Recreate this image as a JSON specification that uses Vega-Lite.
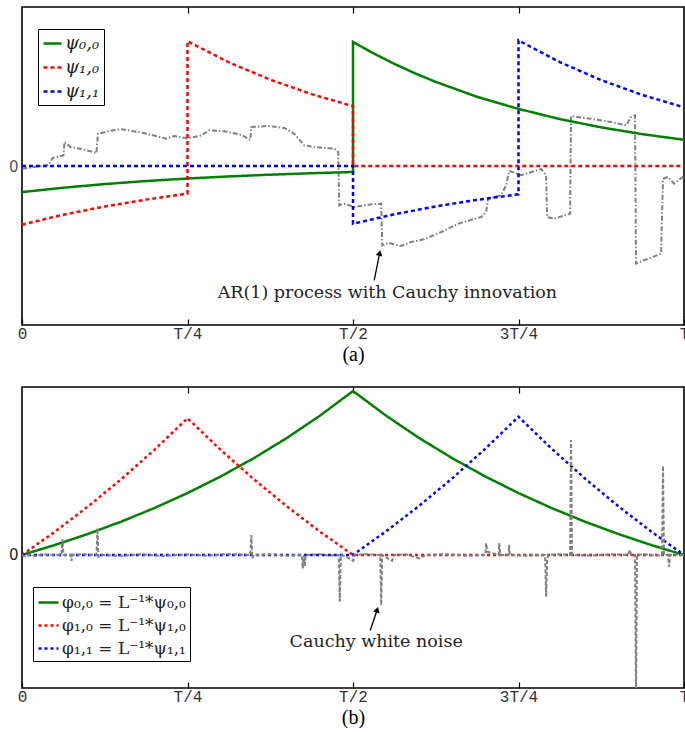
{
  "$schema": "https://vega.github.io/schema/vega-lite/v6.json",
  "background": "white",
  "padding": {"left": 7, "top": 5, "right": 0, "bottom": 0},
  "datasets": {
    "toppsi": [
      {"series": "ψ₀,₀", "t": 0, "v": -0.164},
      {"series": "ψ₀,₀", "t": 0.0625, "v": -0.1365},
      {"series": "ψ₀,₀", "t": 0.125, "v": -0.1136},
      {"series": "ψ₀,₀", "t": 0.1875, "v": -0.0945},
      {"series": "ψ₀,₀", "t": 0.25, "v": -0.0787},
      {"series": "ψ₀,₀", "t": 0.3125, "v": -0.0655},
      {"series": "ψ₀,₀", "t": 0.375, "v": -0.0545},
      {"series": "ψ₀,₀", "t": 0.4375, "v": -0.0454},
      {"series": "ψ₀,₀", "t": 0.5, "v": -0.0378},
      {"series": "ψ₀,₀", "t": 0.5, "v": 0.78},
      {"series": "ψ₀,₀", "t": 0.53125, "v": 0.708},
      {"series": "ψ₀,₀", "t": 0.5625, "v": 0.642},
      {"series": "ψ₀,₀", "t": 0.59375, "v": 0.583},
      {"series": "ψ₀,₀", "t": 0.625, "v": 0.529},
      {"series": "ψ₀,₀", "t": 0.6875, "v": 0.435},
      {"series": "ψ₀,₀", "t": 0.75, "v": 0.359},
      {"series": "ψ₀,₀", "t": 0.8125, "v": 0.295},
      {"series": "ψ₀,₀", "t": 0.875, "v": 0.243},
      {"series": "ψ₀,₀", "t": 0.9375, "v": 0.2},
      {"series": "ψ₀,₀", "t": 1, "v": 0.165},
      {"series": "ψ₁,₀", "t": 0, "v": -0.369},
      {"series": "ψ₁,₀", "t": 0.0625, "v": -0.306},
      {"series": "ψ₁,₀", "t": 0.125, "v": -0.2546},
      {"series": "ψ₁,₀", "t": 0.1875, "v": -0.2114},
      {"series": "ψ₁,₀", "t": 0.25, "v": -0.1734},
      {"series": "ψ₁,₀", "t": 0.25, "v": 0.784},
      {"series": "ψ₁,₀", "t": 0.3125, "v": 0.652},
      {"series": "ψ₁,₀", "t": 0.375, "v": 0.543},
      {"series": "ψ₁,₀", "t": 0.4375, "v": 0.452},
      {"series": "ψ₁,₀", "t": 0.5, "v": 0.376},
      {"series": "ψ₁,₀", "t": 0.5, "v": 0},
      {"series": "ψ₁,₀", "t": 1, "v": 0},
      {"series": "ψ₁,₁", "t": 0, "v": 0},
      {"series": "ψ₁,₁", "t": 0.5, "v": 0},
      {"series": "ψ₁,₁", "t": 0.5, "v": -0.363},
      {"series": "ψ₁,₁", "t": 0.5625, "v": -0.3037},
      {"series": "ψ₁,₁", "t": 0.625, "v": -0.2541},
      {"series": "ψ₁,₁", "t": 0.6875, "v": -0.2126},
      {"series": "ψ₁,₁", "t": 0.75, "v": -0.178},
      {"series": "ψ₁,₁", "t": 0.75, "v": 0.79},
      {"series": "ψ₁,₁", "t": 0.8125, "v": 0.653},
      {"series": "ψ₁,₁", "t": 0.875, "v": 0.54},
      {"series": "ψ₁,₁", "t": 0.9375, "v": 0.446},
      {"series": "ψ₁,₁", "t": 1, "v": 0.369}
    ],
    "topnoise": [
      {"t": 0.0008, "v": -0.017}, {"t": 0.0189, "v": -0.006}, {"t": 0.04, "v": 0.006},
      {"t": 0.046, "v": 0.05}, {"t": 0.0626, "v": 0.066}, {"t": 0.0642, "v": 0.151},
      {"t": 0.0732, "v": 0.119}, {"t": 0.0898, "v": 0.107}, {"t": 0.1125, "v": 0.082},
      {"t": 0.1147, "v": 0.203}, {"t": 0.1381, "v": 0.225}, {"t": 0.1502, "v": 0.231},
      {"t": 0.1834, "v": 0.208}, {"t": 0.2181, "v": 0.172}, {"t": 0.2302, "v": 0.189},
      {"t": 0.2498, "v": 0.173}, {"t": 0.2709, "v": 0.192}, {"t": 0.283, "v": 0.225},
      {"t": 0.3057, "v": 0.218}, {"t": 0.3313, "v": 0.196}, {"t": 0.3449, "v": 0.164},
      {"t": 0.3464, "v": 0.245}, {"t": 0.3721, "v": 0.252}, {"t": 0.3962, "v": 0.239},
      {"t": 0.4113, "v": 0.203}, {"t": 0.4264, "v": 0.13}, {"t": 0.4415, "v": 0.119},
      {"t": 0.4717, "v": 0.109}, {"t": 0.4777, "v": 0.088}, {"t": 0.4792, "v": -0.247},
      {"t": 0.4868, "v": -0.237}, {"t": 0.5019, "v": -0.258}, {"t": 0.523, "v": -0.243},
      {"t": 0.5426, "v": -0.237}, {"t": 0.5442, "v": -0.499}, {"t": 0.5532, "v": -0.482},
      {"t": 0.5728, "v": -0.503}, {"t": 0.5879, "v": -0.478}, {"t": 0.6075, "v": -0.461},
      {"t": 0.6332, "v": -0.415}, {"t": 0.6589, "v": -0.363}, {"t": 0.6936, "v": -0.321},
      {"t": 0.7011, "v": -0.289}, {"t": 0.7042, "v": -0.206}, {"t": 0.7238, "v": -0.184},
      {"t": 0.7313, "v": -0.121}, {"t": 0.7358, "v": -0.031}, {"t": 0.754, "v": -0.058},
      {"t": 0.7842, "v": -0.019}, {"t": 0.7917, "v": -0.058}, {"t": 0.7932, "v": -0.321},
      {"t": 0.8038, "v": -0.331}, {"t": 0.8279, "v": -0.3}, {"t": 0.8294, "v": 0.314},
      {"t": 0.8596, "v": 0.297}, {"t": 0.8898, "v": 0.277}, {"t": 0.9125, "v": 0.256},
      {"t": 0.92, "v": 0.308}, {"t": 0.926, "v": 0.319}, {"t": 0.9275, "v": -0.614},
      {"t": 0.9457, "v": -0.583}, {"t": 0.9653, "v": -0.552}, {"t": 0.9683, "v": -0.08},
      {"t": 0.9758, "v": -0.069}, {"t": 0.9849, "v": -0.111}, {"t": 1, "v": -0.063}
    ],
    "topnote": [{"t": 0.552, "v": -0.8, "label": "AR(1) process with Cauchy innovation"}],
    "toparrow": [{"t": 0.532, "v": -0.72, "t2": 0.5403, "v2": -0.547}],
    "botphi": [
      {"series": "φ₀,₀ = L⁻¹*ψ₀,₀", "t": 0, "v": 0},
      {"series": "φ₀,₀ = L⁻¹*ψ₀,₀", "t": 0.05, "v": 0.0597},
      {"series": "φ₀,₀ = L⁻¹*ψ₀,₀", "t": 0.1, "v": 0.1258},
      {"series": "φ₀,₀ = L⁻¹*ψ₀,₀", "t": 0.15, "v": 0.1987},
      {"series": "φ₀,₀ = L⁻¹*ψ₀,₀", "t": 0.2, "v": 0.2794},
      {"series": "φ₀,₀ = L⁻¹*ψ₀,₀", "t": 0.25, "v": 0.3685},
      {"series": "φ₀,₀ = L⁻¹*ψ₀,₀", "t": 0.3, "v": 0.467},
      {"series": "φ₀,₀ = L⁻¹*ψ₀,₀", "t": 0.35, "v": 0.5758},
      {"series": "φ₀,₀ = L⁻¹*ψ₀,₀", "t": 0.4, "v": 0.6961},
      {"series": "φ₀,₀ = L⁻¹*ψ₀,₀", "t": 0.45, "v": 0.8291},
      {"series": "φ₀,₀ = L⁻¹*ψ₀,₀", "t": 0.5, "v": 0.976},
      {"series": "φ₀,₀ = L⁻¹*ψ₀,₀", "t": 0.55, "v": 0.8291},
      {"series": "φ₀,₀ = L⁻¹*ψ₀,₀", "t": 0.6, "v": 0.6961},
      {"series": "φ₀,₀ = L⁻¹*ψ₀,₀", "t": 0.65, "v": 0.5758},
      {"series": "φ₀,₀ = L⁻¹*ψ₀,₀", "t": 0.7, "v": 0.467},
      {"series": "φ₀,₀ = L⁻¹*ψ₀,₀", "t": 0.75, "v": 0.3685},
      {"series": "φ₀,₀ = L⁻¹*ψ₀,₀", "t": 0.8, "v": 0.2794},
      {"series": "φ₀,₀ = L⁻¹*ψ₀,₀", "t": 0.85, "v": 0.1987},
      {"series": "φ₀,₀ = L⁻¹*ψ₀,₀", "t": 0.9, "v": 0.1258},
      {"series": "φ₀,₀ = L⁻¹*ψ₀,₀", "t": 0.95, "v": 0.0597},
      {"series": "φ₀,₀ = L⁻¹*ψ₀,₀", "t": 1, "v": 0},
      {"series": "φ₁,₀ = L⁻¹*ψ₁,₀", "t": 0, "v": 0},
      {"series": "φ₁,₀ = L⁻¹*ψ₁,₀", "t": 0.05, "v": 0.1393},
      {"series": "φ₁,₀ = L⁻¹*ψ₁,₀", "t": 0.1, "v": 0.2895},
      {"series": "φ₁,₀ = L⁻¹*ψ₁,₀", "t": 0.15, "v": 0.4514},
      {"series": "φ₁,₀ = L⁻¹*ψ₁,₀", "t": 0.2, "v": 0.6259},
      {"series": "φ₁,₀ = L⁻¹*ψ₁,₀", "t": 0.25, "v": 0.814},
      {"series": "φ₁,₀ = L⁻¹*ψ₁,₀", "t": 0.3, "v": 0.6259},
      {"series": "φ₁,₀ = L⁻¹*ψ₁,₀", "t": 0.35, "v": 0.4514},
      {"series": "φ₁,₀ = L⁻¹*ψ₁,₀", "t": 0.4, "v": 0.2895},
      {"series": "φ₁,₀ = L⁻¹*ψ₁,₀", "t": 0.45, "v": 0.1393},
      {"series": "φ₁,₀ = L⁻¹*ψ₁,₀", "t": 0.5, "v": 0},
      {"series": "φ₁,₀ = L⁻¹*ψ₁,₀", "t": 1, "v": 0},
      {"series": "φ₁,₁ = L⁻¹*ψ₁,₁", "t": 0, "v": 0},
      {"series": "φ₁,₁ = L⁻¹*ψ₁,₁", "t": 0.5, "v": 0},
      {"series": "φ₁,₁ = L⁻¹*ψ₁,₁", "t": 0.55, "v": 0.1409},
      {"series": "φ₁,₁ = L⁻¹*ψ₁,₁", "t": 0.6, "v": 0.2927},
      {"series": "φ₁,₁ = L⁻¹*ψ₁,₁", "t": 0.65, "v": 0.4564},
      {"series": "φ₁,₁ = L⁻¹*ψ₁,₁", "t": 0.7, "v": 0.6328},
      {"series": "φ₁,₁ = L⁻¹*ψ₁,₁", "t": 0.75, "v": 0.823},
      {"series": "φ₁,₁ = L⁻¹*ψ₁,₁", "t": 0.8, "v": 0.6328},
      {"series": "φ₁,₁ = L⁻¹*ψ₁,₁", "t": 0.85, "v": 0.4564},
      {"series": "φ₁,₁ = L⁻¹*ψ₁,₁", "t": 0.9, "v": 0.2927},
      {"series": "φ₁,₁ = L⁻¹*ψ₁,₁", "t": 0.95, "v": 0.1409},
      {"series": "φ₁,₁ = L⁻¹*ψ₁,₁", "t": 1, "v": 0}
    ],
    "botnoise": [
      {"t": 0, "v": 0}, {"t": 0.006, "v": -0.012}, {"t": 0.012, "v": 0.004}, {"t": 0.02, "v": -0.006}, {"t": 0.03, "v": 0.003},
      {"t": 0.0596, "v": 0}, {"t": 0.0611, "v": 0.093}, {"t": 0.0626, "v": 0},
      {"t": 0.0732, "v": 0}, {"t": 0.0747, "v": -0.035}, {"t": 0.0762, "v": 0},
      {"t": 0.09, "v": 0.004},
      {"t": 0.1125, "v": 0}, {"t": 0.114, "v": 0.159}, {"t": 0.1155, "v": -0.01}, {"t": 0.12, "v": 0},
      {"t": 0.15, "v": -0.005}, {"t": 0.18, "v": 0.004}, {"t": 0.21, "v": -0.006}, {"t": 0.25, "v": 0.003}, {"t": 0.28, "v": -0.004}, {"t": 0.31, "v": 0.005},
      {"t": 0.3449, "v": 0}, {"t": 0.3464, "v": 0.119}, {"t": 0.3479, "v": -0.02}, {"t": 0.35, "v": 0},
      {"t": 0.38, "v": 0.004}, {"t": 0.4, "v": -0.005},
      {"t": 0.4226, "v": 0}, {"t": 0.4241, "v": -0.08}, {"t": 0.4256, "v": 0}, {"t": 0.4271, "v": -0.065}, {"t": 0.4286, "v": 0},
      {"t": 0.45, "v": 0.004}, {"t": 0.465, "v": -0.004},
      {"t": 0.4785, "v": 0}, {"t": 0.48, "v": -0.278}, {"t": 0.4815, "v": 0},
      {"t": 0.49, "v": -0.01}, {"t": 0.5004, "v": -0.035}, {"t": 0.502, "v": 0},
      {"t": 0.52, "v": 0.005},
      {"t": 0.5411, "v": 0}, {"t": 0.5426, "v": -0.298}, {"t": 0.5441, "v": 0},
      {"t": 0.559, "v": -0.035}, {"t": 0.562, "v": 0}, {"t": 0.58, "v": 0.004}, {"t": 0.6, "v": -0.02}, {"t": 0.61, "v": 0}, {"t": 0.64, "v": 0.005}, {"t": 0.67, "v": -0.004},
      {"t": 0.7, "v": 0}, {"t": 0.701, "v": 0.07}, {"t": 0.703, "v": 0.02}, {"t": 0.72, "v": 0}, {"t": 0.7208, "v": 0.07}, {"t": 0.7225, "v": 0}, {"t": 0.735, "v": 0}, {"t": 0.7358, "v": 0.06}, {"t": 0.737, "v": 0},
      {"t": 0.76, "v": -0.004},
      {"t": 0.7902, "v": 0}, {"t": 0.7917, "v": -0.248}, {"t": 0.7932, "v": -0.03}, {"t": 0.795, "v": 0},
      {"t": 0.81, "v": 0.004},
      {"t": 0.8279, "v": 0}, {"t": 0.8294, "v": 0.685}, {"t": 0.8309, "v": 0},
      {"t": 0.86, "v": -0.004}, {"t": 0.89, "v": 0.004}, {"t": 0.915, "v": 0}, {"t": 0.9185, "v": 0.03}, {"t": 0.92, "v": 0},
      {"t": 0.926, "v": 0}, {"t": 0.9275, "v": -0.85}, {"t": 0.929, "v": 0},
      {"t": 0.94, "v": 0.005}, {"t": 0.955, "v": -0.004},
      {"t": 0.9668, "v": 0}, {"t": 0.9683, "v": 0.53}, {"t": 0.9698, "v": 0},
      {"t": 0.976, "v": 0}, {"t": 0.9774, "v": -0.07}, {"t": 0.979, "v": 0}, {"t": 0.99, "v": 0.003}, {"t": 1, "v": 0}
    ],
    "botnote": [{"t": 0.535, "v": -0.518, "label": "Cauchy white noise"}],
    "botarrow": [{"t": 0.526, "v": -0.45, "t2": 0.5366, "v2": -0.326}]
  },
  "vconcat": [
    {
      "width": 662,
      "height": 318,
      "layer": [
        {
          "data": {"name": "topnoise"},
          "mark": {"type": "line", "color": "#808080", "strokeWidth": 2, "strokeDash": [5, 2, 1.5, 2]},
          "encoding": {
            "x": {"field": "t", "type": "quantitative", "scale": {"domain": [0, 1], "nice": false, "zero": false},
              "axis": {"orient": "bottom", "values": [0, 0.25, 0.5, 0.75, 1],
                "labelExpr": "datum.value == 0 ? '0' : datum.value == 0.25 ? 'T/4' : datum.value == 0.5 ? 'T/2' : datum.value == 0.75 ? '3T/4' : 'T'",
                "title": "(a)"}},
            "y": {"field": "v", "type": "quantitative", "scale": {"domain": [-1, 1], "nice": false, "zero": false},
              "axis": {"values": [0], "labelExpr": "'0'", "ticks": false, "title": null, "labelFont": "DejaVu Sans", "labelFontSize": 15, "labelColor": "#555", "labelPadding": 4}},
            "order": {"value": null}
          }
        },
        {
          "data": {"name": "toppsi"},
          "mark": {"type": "line", "strokeWidth": 2.5},
          "encoding": {
            "x": {"field": "t", "type": "quantitative", "axis": {"orient": "top", "values": [0.25, 0.5, 0.75], "labels": false, "title": null}},
            "y": {"field": "v", "type": "quantitative"},
            "color": {"field": "series", "type": "nominal",
              "scale": {"domain": ["ψ₀,₀", "ψ₁,₀", "ψ₁,₁"], "range": ["#008000", "#ff0000", "#0000ff"]},
              "legend": {"orient": "none", "legendX": 16, "legendY": 22, "title": null, "labelFontSize": 18, "labelFontStyle": "italic", "symbolSize": 324, "rowPadding": 4}},
            "strokeDash": {"field": "series", "type": "nominal",
              "scale": {"domain": ["ψ₀,₀", "ψ₁,₀", "ψ₁,₁"], "range": [[1, 0], [4, 3], [4, 3]]},
              "legend": {"orient": "none", "legendX": 16, "legendY": 22, "title": null, "labelFontSize": 18, "labelFontStyle": "italic", "symbolSize": 324, "rowPadding": 4}},
            "order": {"value": null}
          }
        },
        {
          "data": {"name": "topnote"},
          "mark": {"type": "text", "font": "DejaVu Serif", "fontSize": 17.5, "color": "#222"},
          "encoding": {
            "x": {"field": "t", "type": "quantitative", "axis": null},
            "y": {"field": "v", "type": "quantitative"},
            "text": {"field": "label"}
          }
        },
        {
          "data": {"name": "toparrow"},
          "mark": {"type": "rule", "color": "black", "strokeWidth": 1.3},
          "encoding": {
            "x": {"field": "t", "type": "quantitative", "axis": null},
            "y": {"field": "v", "type": "quantitative"},
            "x2": {"field": "t2"},
            "y2": {"field": "v2"}
          }
        },
        {
          "data": {"name": "toparrow"},
          "mark": {"type": "point", "shape": "triangle-up", "filled": true, "color": "black", "size": 45, "angle": 12.5, "opacity": 1},
          "encoding": {
            "x": {"field": "t2", "type": "quantitative", "axis": null},
            "y": {"field": "v2", "type": "quantitative"}
          }
        }
      ],
      "resolve": {"axis": {"x": "independent"}}
    },
    {
      "width": 662,
      "height": 301,
      "layer": [
        {
          "data": {"name": "botphi"},
          "mark": {"type": "line", "strokeWidth": 2.5},
          "encoding": {
            "x": {"field": "t", "type": "quantitative", "scale": {"domain": [0, 1], "nice": false, "zero": false},
              "axis": {"orient": "bottom", "values": [0, 0.25, 0.5, 0.75, 1],
                "labelExpr": "datum.value == 0 ? '0' : datum.value == 0.25 ? 'T/4' : datum.value == 0.5 ? 'T/2' : datum.value == 0.75 ? '3T/4' : 'T'",
                "title": "(b)"}},
            "y": {"field": "v", "type": "quantitative", "scale": {"domain": [-0.792, 1], "nice": false, "zero": false},
              "axis": {"values": [0], "labelExpr": "'0'", "ticks": false, "title": null, "labelFont": "DejaVu Sans", "labelFontSize": 15, "labelColor": "#222", "labelPadding": 4}},
            "color": {"field": "series", "type": "nominal",
              "scale": {"domain": ["φ₀,₀ = L⁻¹*ψ₀,₀", "φ₁,₀ = L⁻¹*ψ₁,₀", "φ₁,₁ = L⁻¹*ψ₁,₁"], "range": ["#008000", "#ff0000", "#0000ff"]},
              "legend": {"orient": "none", "legendX": 11, "legendY": 200, "title": null, "labelFontSize": 17}},
            "strokeDash": {"field": "series", "type": "nominal",
              "scale": {"domain": ["φ₀,₀ = L⁻¹*ψ₀,₀", "φ₁,₀ = L⁻¹*ψ₁,₀", "φ₁,₁ = L⁻¹*ψ₁,₁"], "range": [[1, 0], [3, 3], [3, 3]]},
              "legend": {"orient": "none", "legendX": 11, "legendY": 200, "title": null, "labelFontSize": 17}},
            "order": {"value": null}
          }
        },
        {
          "data": {"name": "botnoise"},
          "mark": {"type": "line", "color": "#808080", "strokeWidth": 2, "strokeDash": [4, 2], "clip": true},
          "encoding": {
            "x": {"field": "t", "type": "quantitative", "axis": {"orient": "top", "values": [0.25, 0.5, 0.75], "labels": false, "title": null}},
            "y": {"field": "v", "type": "quantitative"},
            "order": {"value": null}
          }
        },
        {
          "data": {"name": "botnote"},
          "mark": {"type": "text", "font": "DejaVu Serif", "fontSize": 17.5, "color": "#222"},
          "encoding": {
            "x": {"field": "t", "type": "quantitative", "axis": null},
            "y": {"field": "v", "type": "quantitative"},
            "text": {"field": "label"}
          }
        },
        {
          "data": {"name": "botarrow"},
          "mark": {"type": "rule", "color": "black", "strokeWidth": 1.3},
          "encoding": {
            "x": {"field": "t", "type": "quantitative", "axis": null},
            "y": {"field": "v", "type": "quantitative"},
            "x2": {"field": "t2"},
            "y2": {"field": "v2"}
          }
        },
        {
          "data": {"name": "botarrow"},
          "mark": {"type": "point", "shape": "triangle-up", "filled": true, "color": "black", "size": 45, "angle": 16, "opacity": 1},
          "encoding": {
            "x": {"field": "t2", "type": "quantitative", "axis": null},
            "y": {"field": "v2", "type": "quantitative"}
          }
        }
      ],
      "resolve": {"axis": {"x": "independent"}}
    }
  ],
  "spacing": 20,
  "resolve": {
    "scale": {"color": "independent", "strokeDash": "independent"},
    "legend": {"color": "independent", "strokeDash": "independent"}
  },
  "config": {
    "view": {"stroke": "black", "strokeWidth": 1.6},
    "axis": {
      "grid": false, "domain": false, "tickColor": "black", "tickWidth": 1.2, "tickSize": -6,
      "labelFont": "Liberation Mono", "labelFontSize": 16, "labelColor": "#333", "labelPadding": 6,
      "labelFlush": false, "labelOverlap": false,
      "titleFont": "Liberation Serif", "titleFontSize": 20, "titleFontWeight": "normal", "titleColor": "black", "titlePadding": 3
    },
    "legend": {
      "symbolType": "stroke", "symbolSize": 400, "symbolStrokeWidth": 2.5,
      "labelFont": "DejaVu Serif", "labelColor": "#222", "labelOffset": 2,
      "strokeColor": "black", "fillColor": "white", "padding": 4, "rowPadding": 3,
      "cornerRadius": 0
    }
  }
}
